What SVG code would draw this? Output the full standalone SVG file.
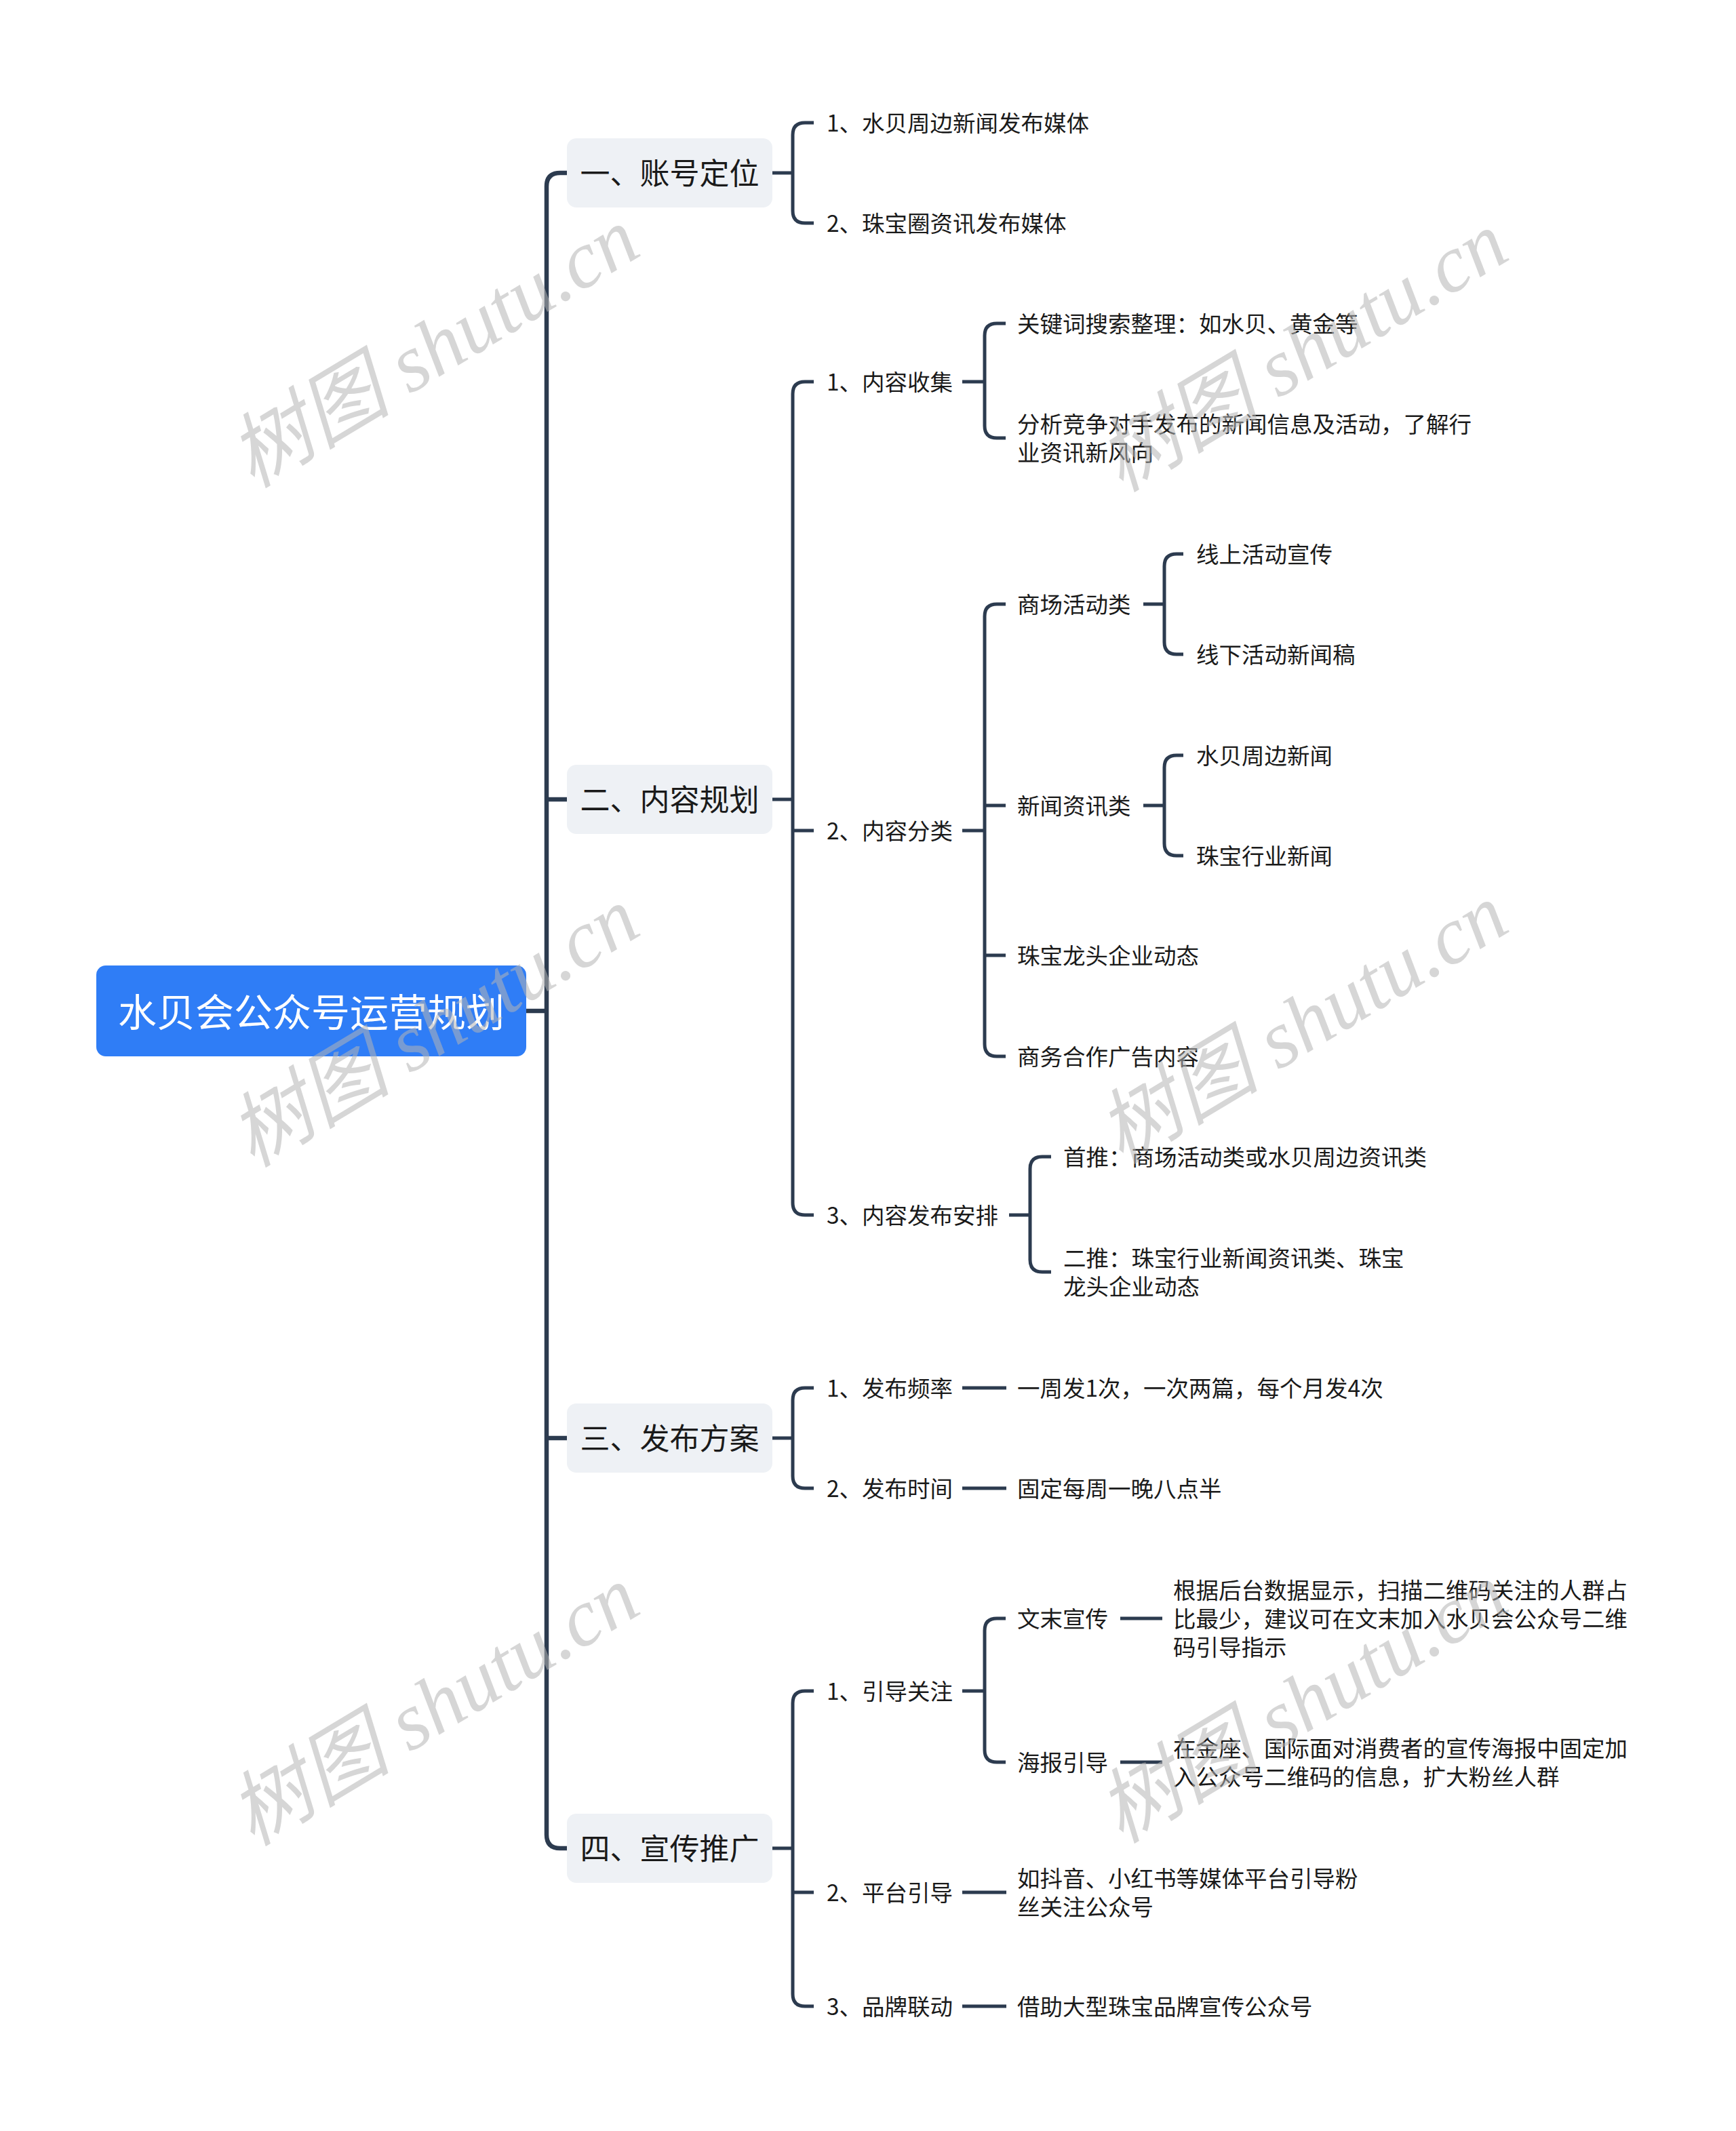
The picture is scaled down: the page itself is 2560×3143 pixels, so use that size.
<svg xmlns="http://www.w3.org/2000/svg" width="2560" height="3143" viewBox="0 0 2560 3143">
<style>
.t{font-family:"Noto Sans CJK SC","Noto Sans",sans-serif;font-size:33.5px;fill:#1a1a1a;dominant-baseline:central}
.l1{font-family:"Noto Sans CJK SC","Noto Sans",sans-serif;font-size:44px;fill:#1a1a1a;dominant-baseline:central;text-anchor:middle}
.rt{font-family:"Noto Sans CJK SC","Noto Sans",sans-serif;font-size:57px;fill:#ffffff;dominant-baseline:central;text-anchor:middle}
.box{fill:#eef1f5}
.c{fill:none;stroke:#2c3b4f;stroke-width:5;stroke-linecap:butt}
.main{fill:none;stroke:#2c3b4f;stroke-width:6.5}
.wm{font-family:"Liberation Serif","Noto Sans CJK SC",serif;font-style:italic;font-size:120px;fill:#b5b5b5;fill-opacity:0.55;text-anchor:middle;dominant-baseline:central}
</style>
<rect width="2560" height="3143" fill="#ffffff"/>

<g id="connectors">
<path class="main" d="M776,1491 H806"/>
<path class="main" d="M836,255 H826 Q806,255 806,275 V2706 Q806,2726 826,2726 H836"/>
<path class="main" d="M806,1179 H836 M806,2121 H836"/>

<path class="c" d="M1139,255 H1169 M1200,181 H1187 Q1169,181 1169,199 V311 Q1169,329 1187,329 H1200"/>
<path class="c" d="M1139,1179 H1169 M1200,563 H1187 Q1169,563 1169,581 V1774 Q1169,1792 1187,1792 H1200 M1169,1225 H1200"/>
<path class="c" d="M1139,2121 H1169 M1200,2047 H1187 Q1169,2047 1169,2065 V2177 Q1169,2195 1187,2195 H1200"/>
<path class="c" d="M1139,2726 H1169 M1200,2494 H1187 Q1169,2494 1169,2512 V2941 Q1169,2959 1187,2959 H1200 M1169,2791 H1200"/>

<path class="c" d="M1419,563 H1452 M1483,477 H1470 Q1452,477 1452,495 V628 Q1452,646 1470,646 H1483"/>
<path class="c" d="M1419,1225 H1452 M1483,891 H1470 Q1452,891 1452,909 V1540 Q1452,1558 1470,1558 H1483 M1452,1188 H1483 M1452,1409 H1483"/>
<path class="c" d="M1686,891 H1717 M1745,817 H1735 Q1717,817 1717,835 V947 Q1717,965 1735,965 H1745"/>
<path class="c" d="M1686,1188 H1717 M1745,1114 H1735 Q1717,1114 1717,1132 V1244 Q1717,1262 1735,1262 H1745"/>
<path class="c" d="M1488,1792 H1519 M1550,1706 H1537 Q1519,1706 1519,1724 V1858 Q1519,1876 1537,1876 H1550"/>
<path class="c" d="M1419,2047 H1484 M1419,2195 H1484"/>
<path class="c" d="M1419,2494 H1452 M1483,2387 H1470 Q1452,2387 1452,2405 V2581 Q1452,2599 1470,2599 H1483"/>
<path class="c" d="M1652,2387 H1714 M1652,2599 H1714"/>
<path class="c" d="M1419,2791 H1484 M1419,2959 H1484"/>
</g>

<g id="root"><rect x="142" y="1424" width="634" height="134" rx="14" fill="#2f7df6"/><text class="rt" x="459" y="1489">水贝会公众号运营规划</text></g>

<g id="n1"><rect class="box" x="836" y="204" width="303" height="102" rx="14"/><text class="l1" x="987.5" y="253">一、账号定位</text></g>
<g id="n2"><rect class="box" x="836" y="1128" width="303" height="102" rx="14"/><text class="l1" x="987.5" y="1177">二、内容规划</text></g>
<g id="n3"><rect class="box" x="836" y="2070" width="303" height="102" rx="14"/><text class="l1" x="987.5" y="2119">三、发布方案</text></g>
<g id="n4"><rect class="box" x="836" y="2675" width="303" height="102" rx="14"/><text class="l1" x="987.5" y="2724">四、宣传推广</text></g>

<g transform="translate(0,-2)">
<g id="n1_1"><text class="t" x="1219" y="181">1、水贝周边新闻发布媒体</text></g>
<g id="n1_2"><text class="t" x="1219" y="329">2、珠宝圈资讯发布媒体</text></g>

<g id="n2_1"><text class="t" x="1219" y="563">1、内容收集</text></g>
<g id="n2_1_1"><text class="t" x="1500" y="477">关键词搜索整理：如水贝、黄金等</text></g>
<g id="n2_1_2"><text class="t" x="1500" y="625">分析竞争对手发布的新闻信息及活动，了解行</text><text class="t" x="1500" y="667">业资讯新风向</text></g>

<g id="n2_2"><text class="t" x="1219" y="1225">2、内容分类</text></g>
<g id="n2_2_1"><text class="t" x="1500" y="891">商场活动类</text></g>
<g id="n2_2_1_1"><text class="t" x="1764" y="817">线上活动宣传</text></g>
<g id="n2_2_1_2"><text class="t" x="1764" y="965">线下活动新闻稿</text></g>
<g id="n2_2_2"><text class="t" x="1500" y="1188">新闻资讯类</text></g>
<g id="n2_2_2_1"><text class="t" x="1764" y="1114">水贝周边新闻</text></g>
<g id="n2_2_2_2"><text class="t" x="1764" y="1262">珠宝行业新闻</text></g>
<g id="n2_2_3"><text class="t" x="1500" y="1409">珠宝龙头企业动态</text></g>
<g id="n2_2_4"><text class="t" x="1500" y="1558">商务合作广告内容</text></g>

<g id="n2_3"><text class="t" x="1219" y="1792">3、内容发布安排</text></g>
<g id="n2_3_1"><text class="t" x="1568" y="1706">首推：商场活动类或水贝周边资讯类</text></g>
<g id="n2_3_2"><text class="t" x="1568" y="1855">二推：珠宝行业新闻资讯类、珠宝</text><text class="t" x="1568" y="1897">龙头企业动态</text></g>

<g id="n3_1"><text class="t" x="1219" y="2047">1、发布频率</text></g>
<g id="n3_1_1"><text class="t" x="1500" y="2047">一周发1次，一次两篇，每个月发4次</text></g>
<g id="n3_2"><text class="t" x="1219" y="2195">2、发布时间</text></g>
<g id="n3_2_1"><text class="t" x="1500" y="2195">固定每周一晚八点半</text></g>

<g id="n4_1"><text class="t" x="1219" y="2494">1、引导关注</text></g>
<g id="n4_1_1"><text class="t" x="1500" y="2387">文末宣传</text></g>
<g id="n4_1_1_1"><text class="t" x="1730" y="2345">根据后台数据显示，扫描二维码关注的人群占</text><text class="t" x="1730" y="2387">比最少，建议可在文末加入水贝会公众号二维</text><text class="t" x="1730" y="2429">码引导指示</text></g>
<g id="n4_1_2"><text class="t" x="1500" y="2599">海报引导</text></g>
<g id="n4_1_2_1"><text class="t" x="1730" y="2578">在金座、国际面对消费者的宣传海报中固定加</text><text class="t" x="1730" y="2620">入公众号二维码的信息，扩大粉丝人群</text></g>
<g id="n4_2"><text class="t" x="1219" y="2791">2、平台引导</text></g>
<g id="n4_2_1"><text class="t" x="1500" y="2770">如抖音、小红书等媒体平台引导粉</text><text class="t" x="1500" y="2812">丝关注公众号</text></g>
<g id="n4_3"><text class="t" x="1219" y="2959">3、品牌联动</text></g>
<g id="n4_3_1"><text class="t" x="1500" y="2959">借助大型珠宝品牌宣传公众号</text></g>
</g>

<g id="watermarks">
<text class="wm" transform="translate(640,513) rotate(-31)">树图 shutu.cn</text>
<text class="wm" transform="translate(1921,519) rotate(-31)">树图 shutu.cn</text>
<text class="wm" transform="translate(640,1515) rotate(-31)">树图 shutu.cn</text>
<text class="wm" transform="translate(1921,1510) rotate(-31)">树图 shutu.cn</text>
<text class="wm" transform="translate(640,2516) rotate(-31)">树图 shutu.cn</text>
<text class="wm" transform="translate(1921,2512) rotate(-31)">树图 shutu.cn</text>
</g>
</svg>
